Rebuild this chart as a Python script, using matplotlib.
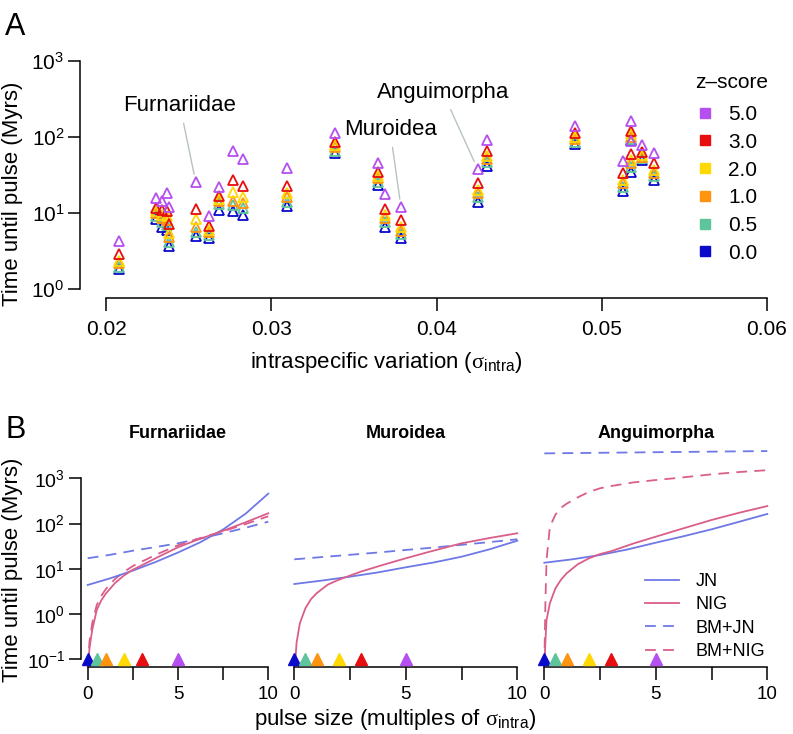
import matplotlib
matplotlib.use('Agg')
import matplotlib.pyplot as plt
from matplotlib.lines import Line2D
from matplotlib.ticker import NullLocator

plt.rcParams['font.family'] = ['Liberation Sans', 'DejaVu Sans']
plt.rcParams['mathtext.fontset'] = 'custom'
plt.rcParams['mathtext.rm'] = 'Liberation Sans'
plt.rcParams['mathtext.it'] = 'Liberation Sans:italic'
plt.rcParams['mathtext.sf'] = 'Liberation Serif'

# ---- panel A data: time until pulse per clade, for each z-score ----
sigma_intra = [0.0208, 0.0230, 0.0234, 0.0237, 0.0238, 0.02543, 0.02625, 0.02683,
               0.02769, 0.02831, 0.03093, 0.03388, 0.03644, 0.03688, 0.03785,
               0.04249, 0.04308, 0.0484, 0.0518, 0.0518, 0.0513, 0.05241, 0.05316]
t_z50 = [4.3, 15.9, 14.5, 18.5, 12.1, 25.3, 9.1, 22.2, 66, 51, 39.4, 112, 45.9,
         17.8, 11.9, 37.9, 91, 140, 162, 88, 48.3, 78.5, 61]
t_z30 = [2.86, 11.5, 11.0, 10.5, 7.2, 11.3, 6.8, 16.9, 27.2, 22.6, 22.6, 86.7, 35,
         11.4, 8.1, 24.6, 65, 112, 120, 59, 34, 64, 45]
t_z20 = [2.36, 10.5, 9.5, 9.0, 5.4, 8.3, 6.0, 15.5, 19, 16.4, 18.2, 78.5, 30.7,
         9.4, 6.6, 20.1, 56, 99, 108, 50, 27.2, 58, 36.8]
t_z10 = [2.18, 10.0, 8.5, 8.0, 4.8, 6.6, 5.6, 14.5, 14.5, 13.7, 16.1, 73, 28.6,
         8.5, 5.85, 18.2, 52, 93, 100, 45, 24.6, 55, 33.3]
t_z05 = [1.96, 9.0, 7.5, 7.0, 4.2, 5.7, 5.2, 13.1, 12.7, 11.5, 14.1, 66, 25.8,
         7.5, 5.25, 16.1, 47, 87, 95, 40, 21.8, 52.5, 30.7]
t_z00 = [1.82, 8.3, 6.5, 6.0, 3.7, 5.0, 4.7, 11, 10.6, 9.4, 12.4, 61, 23.4,
         6.5, 4.65, 14.1, 41.5, 80, 90, 35, 19.7, 49.8, 27.2]

z_labels = ['0.0', '0.5', '1.0', '2.0', '3.0', '5.0']
z_values = [0.0, 0.5, 1.0, 2.0, 3.0, 5.0]
z_colors = ['#0A0ACB', '#5DC49B', '#FF9410', '#FFD800', '#E60E0E', '#B54FEF']

clade_names = ['Furnariidae', 'Muroidea', 'Anguimorpha']
clade_idx = [5, 14, 15]
clade_text = [(0.02448, 256), (0.03719, 124), (0.04039, 383)]

# ---- panel B data ----
x_jn = [0, 1.25, 2.5, 3.75, 5, 6.25, 7.5, 8.75, 10]
x_nig = [0, 0.05, 0.1, 0.25, 0.5, 0.75, 1, 1.5, 2, 2.5, 3, 4, 5, 6, 7.5, 8.75, 10]

fur_jn = [4.39, 6.17, 9.12, 14.1, 22.9, 38.9, 74.1, 166, 459]
fur_bmjn = [17.1, 20.4, 25.1, 30.2, 36.6, 46.8, 61, 81, 110]
fur_nig = [0.07, 0.1, 0.178, 0.447, 1.23, 2.0, 2.82, 4.79, 7.08, 9.55, 12.0, 19.1,
           29.9, 42.7, 69.2, 107, 169]
fur_bmnig = [0.07, 0.126, 0.251, 0.631, 1.58, 2.51, 3.55, 5.89, 8.51, 11.5, 14.5,
             22.4, 33.1, 44.7, 67.6, 97.7, 145]

mur_jn = [4.61, 5.5, 6.7, 8.32, 10.8, 13.8, 18.5, 26.9, 41.8]
mur_bmjn = [16.2, 18.2, 20.4, 22.9, 26.1, 29.5, 33.9, 38.9, 44.9]
mur_nig = [0.07, 0.1, 0.229, 0.631, 1.35, 2.14, 2.88, 4.47, 5.75, 7.08, 8.71, 12.3,
           17.1, 23.4, 36.6, 47.9, 61]

ang_jn = [13.6, 16.2, 20.2, 26.9, 37.8, 52.5, 74.6, 110, 163]
ang_bmjn = [3565, 3618, 3672, 3726, 3781, 3837, 3894, 3951, 4009]
ang_nig = [0.07, 0.251, 0.741, 1.74, 3.72, 5.75, 7.94, 12.6, 17.0, 21.2, 24.5, 36.3,
           51.3, 72.4, 120, 174, 244]
ang_bmnig = [0.07, 2.0, 15.8, 85.1, 158, 224, 275, 380, 501, 603, 676, 813, 918,
             1023, 1225, 1380, 1514]

blue = '#6E78E6'
pink = '#DA5E8B'
dash = (0, (6, 4))

W, H = 793, 734
fig = plt.figure(figsize=(W / 100, H / 100), dpi=100)


def box(x0, y0, x1, y1):
    return [x0 / W, 1 - y1 / H, (x1 - x0) / W, (y1 - y0) / H]


def r_axes(ax, fs):
    for s in ['top', 'right']:
        ax.spines[s].set_visible(False)
    ax.tick_params(direction='out', length=9, width=1.1, labelsize=fs)
    ax.spines['left'].set_linewidth(1.1)
    ax.spines['bottom'].set_linewidth(1.1)


# ---------------- A ----------------
axA = fig.add_axes(box(79.6, 51.9, 793.4, 298.1))
series = [t_z00, t_z05, t_z10, t_z20, t_z30, t_z50]
for ys, c in zip(series, z_colors):
    axA.plot(sigma_intra, ys, ls='', marker='^', ms=7.5, mfc='none', mec=c,
             mew=1.3, clip_on=False, zorder=3)
axA.set_yscale('log')
axA.set_xlim(0.0184, 0.0616)
axA.set_ylim(10 ** -0.12, 10 ** 3.12)
axA.set_yticks([1, 10, 100, 1000])
axA.yaxis.set_minor_locator(NullLocator())
axA.set_xticks([0.02, 0.03, 0.04, 0.05, 0.06])
axA.set_xticklabels(['0.02', '0.03', '0.04', '0.05', '0.06'])
axA.spines['left'].set_bounds(1, 1000)
axA.spines['bottom'].set_bounds(0.02, 0.06)
r_axes(axA, 15)
axA.tick_params(axis='x', pad=7)
axA.tick_params(axis='y', pad=2)

for name, i, (tx, ty) in zip(clade_names, clade_idx, clade_text):
    axA.annotate(name, xy=(sigma_intra[i], t_z50[i]), xytext=(tx, ty),
                 ha='center', va='center', fontsize=16,
                 arrowprops=dict(arrowstyle='-', color='#B8C2C2', lw=1,
                                 shrinkA=3, shrinkB=6))

handles = [Line2D([], [], ls='', marker='s', ms=7.5, color=c)
           for c in z_colors[::-1]]
axA.legend(handles, z_labels[::-1], loc='upper left',
           bbox_to_anchor=(697 / W, 1 - 105 / H), bbox_transform=fig.transFigure,
           frameon=False, fontsize=15, handlelength=0.8,
           handletextpad=0.7, labelspacing=0.42, borderpad=0, borderaxespad=0)
fig.text(732 / W, 1 - 82 / H, 'z\u2013score', ha='center', va='center',
         fontsize=15)

fig.text(5 / W, 1 - 35 / H, 'A', fontsize=22, ha='left', va='baseline')
fig.text(13 / W, 1 - 194 / H, 'Time until pulse (Myrs)', rotation=90,
         ha='center', va='center', fontsize=16)
fig.text(386 / W, 1 - 362 / H,
         r'intraspecific variation ($\mathsf{\sigma}_{\mathrm{intra}}$)',
         ha='center', va='center', fontsize=16)

# ---------------- B ----------------
panels = [
    (box(80.5, 471.1, 275.5, 666.5), 'Furnariidae', fur_jn, fur_nig, fur_bmjn, fur_bmnig),
    (box(285.4, 471.1, 526.2, 666.5), 'Muroidea', mur_jn, mur_nig, mur_bmjn, None),
    (box(535.4, 471.1, 776.2, 666.5), 'Anguimorpha', ang_jn, ang_nig, ang_bmjn, ang_bmnig),
]
for k, (pos, title, jn, nig, bmjn, bmnig) in enumerate(panels):
    ax = fig.add_axes(pos)
    ax.plot(x_jn, bmjn, color=blue, lw=1.3, ls=dash, clip_on=False)
    if bmnig is not None:
        ax.plot(x_nig, bmnig, color=pink, lw=1.3, ls=dash, clip_on=False)
    ax.plot(x_jn, jn, color=blue, lw=1.3, clip_on=False)
    ax.plot(x_nig, nig, color=pink, lw=1.3, clip_on=False)
    for zv, c in zip(z_values, z_colors):
        ax.plot([zv], [0.1], ls='', marker='^', ms=8, color=c, clip_on=False,
                zorder=4)
    ax.set_yscale('log')
    ax.set_xlim(-0.4, 10.4)
    ax.set_ylim(10 ** -1.16, 10 ** 3.16)
    ax.set_xticks([0, 2.5, 5, 7.5, 10])
    ax.set_xticklabels(['0', '', '5', '', '10'])
    ax.spines['bottom'].set_bounds(0, 10)
    ax.yaxis.set_minor_locator(NullLocator())
    r_axes(ax, 14)
    ax.tick_params(axis='x', labelsize=13.5, pad=5)
    if k == 0:
        ax.set_yticks([0.1, 1, 10, 100, 1000])
        ax.spines['left'].set_bounds(0.1, 1000)
        ax.tick_params(axis='y', pad=2)
    else:
        ax.spines['left'].set_visible(False)
        ax.tick_params(axis='y', left=False, labelleft=False)
    ax.set_title(title, fontsize=13, fontweight='bold', pad=24)
    if k == 2:
        lh = [Line2D([], [], color=blue, lw=1.3),
              Line2D([], [], color=pink, lw=1.3),
              Line2D([], [], color=blue, lw=1.3, ls=dash),
              Line2D([], [], color=pink, lw=1.3, ls=dash)]
        ax.legend(lh, ['JN', 'NIG', 'BM+JN', 'BM+NIG'], loc='upper left',
                  bbox_to_anchor=(645 / W, 1 - 573 / H),
                  bbox_transform=fig.transFigure, frameon=False, fontsize=13,
                  handlelength=1.9, handletextpad=0.9, labelspacing=0.35,
                  borderpad=0, borderaxespad=0)

fig.text(5 / W, 1 - 438 / H, 'B', fontsize=22, ha='left', va='baseline')
fig.text(13 / W, 1 - 570 / H, 'Time until pulse (Myrs)', rotation=90,
         ha='center', va='center', fontsize=16)
fig.text(395 / W, 1 - 720 / H,
         r'pulse size (multiples of $\mathsf{\sigma}_{\mathrm{intra}}$)',
         ha='center', va='center', fontsize=16)

fig.savefig('out.png', dpi=100)
